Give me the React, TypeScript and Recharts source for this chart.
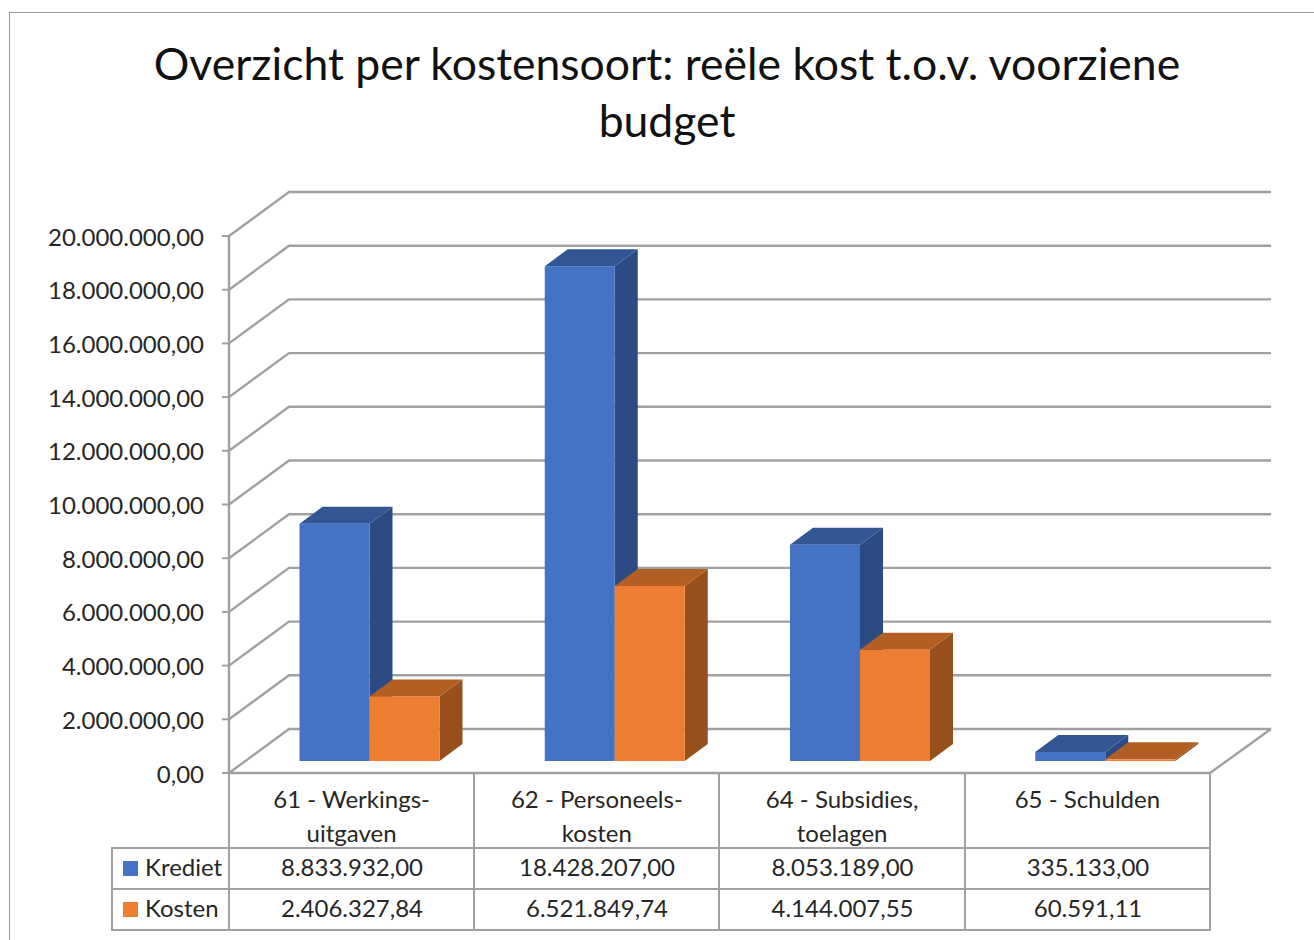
// Overzicht per kostensoort: 3D kolommen met gegevenstabel eronder

import React from 'react';
import { BarChart, Bar, CartesianGrid, XAxis, YAxis } from 'recharts';

const categories = ['61 - Werkings-uitgaven', '62 - Personeels-kosten', '64 - Subsidies, toelagen', '65 - Schulden'];
const categoryLines = [
  ['61 - Werkings-', 'uitgaven'],
  ['62 - Personeels-', 'kosten'],
  ['64 - Subsidies,', 'toelagen'],
  ['65 - Schulden'],
];
const krediet = [8833932.0, 18428207.0, 8053189.0, 335133.0];
const kosten = [2406327.84, 6521849.74, 4144007.55, 60591.11];
const yTicks = [0, 2000000, 4000000, 6000000, 8000000, 10000000, 12000000, 14000000, 16000000, 18000000, 20000000];
const titleLines = ['Overzicht per kostensoort: reële kost t.o.v. voorziene', 'budget'];

const chartData = categories.map((name, i) => ({ name, krediet: krediet[i], kosten: kosten[i] }));

const FONT = 'Lato, sans-serif';
const GRID = '#a0a0a0';
const TEXT = '#262626';

// perspectief: voorvlak -> achterwand
const FRONT_LEFT = 229;
const FRONT_RIGHT = 1210;
const WALL_DX = 60;
const WALL_DY = 44;
const FLOOR_DROP = 12; // bars staan midden op de vloer, voorvlak ligt 12px lager
const BAR_SHIFT = 17.5;
const BAR_DX = 23;
const BAR_DY = 17;

const fmt = (v: number) =>
  v.toLocaleString('de-DE', { minimumFractionDigits: 2, maximumFractionDigits: 2 });

const make3dBar = (side: string, top: string) => (props: any) => {
  const { x, y, width, height, fill } = props;
  return (
    <g>
      <polygon
        points={`${x + width},${y} ${x + width + BAR_DX},${y - BAR_DY} ${x + width + BAR_DX},${y + height - BAR_DY} ${x + width},${y + height}`}
        fill={side}
      />
      <polygon
        points={`${x},${y} ${x + BAR_DX},${y - BAR_DY} ${x + width + BAR_DX},${y - BAR_DY} ${x + width},${y}`}
        fill={top}
      />
      <rect x={x} y={y} width={width} height={height} fill={fill} />
    </g>
  );
};

const gridRow = (props: any) => {
  const y = props.y1 + FLOOR_DROP;
  const isFloor = props.y1 > 750;
  return (
    <g key={props.key} stroke={GRID} strokeWidth={2.4} fill="none">
      <polyline
        points={`${FRONT_LEFT},${y} ${FRONT_LEFT + WALL_DX},${y - WALL_DY} ${FRONT_RIGHT + WALL_DX + 1},${y - WALL_DY}`}
      />
      {isFloor && (
        <>
          <polyline
            points={`${FRONT_LEFT},${y} ${FRONT_RIGHT},${y} ${FRONT_RIGHT + WALL_DX + 1},${y - WALL_DY}`}
          />
          <line x1={FRONT_LEFT} y1={y} x2={FRONT_LEFT} y2={236} />
        </>
      )}
    </g>
  );
};

const YTick = (props: any) => {
  const y = props.y + FLOOR_DROP;
  return (
    <g>
      <line x1={FRONT_LEFT - 7} y1={y} x2={FRONT_LEFT} y2={y} stroke={GRID} strokeWidth={2} />
      <text x={204} y={y + 9.5} textAnchor="end" fontFamily={FONT} fontSize={24} fill={TEXT}>
        {fmt(props.payload.value)}
      </text>
    </g>
  );
};

const XTick = (props: any) => {
  const lines = categoryLines[props.index] ?? [];
  return (
    <text x={props.x - BAR_SHIFT} textAnchor="middle" fontFamily={FONT} fontSize={24} fill={TEXT}>
      {lines.map((line, i) => (
        <tspan key={line} x={props.x - BAR_SHIFT} y={808 + i * 34}>
          {line}
        </tspan>
      ))}
    </text>
  );
};

const cell: React.CSSProperties = {
  border: `2px solid ${GRID}`,
  padding: '0 0 5px 1px',
  textAlign: 'center',
  fontFamily: FONT,
  fontSize: 24,
  color: TEXT,
};

const rows = [
  { label: 'Krediet', color: '#4472C4', values: krediet },
  { label: 'Kosten', color: '#ED7D31', values: kosten },
];

const DataTable = () => (
  <table
    style={{
      position: 'absolute',
      left: 111,
      top: 773,
      width: 1099,
      tableLayout: 'fixed',
      borderCollapse: 'collapse',
    }}
  >
    <colgroup>
      <col style={{ width: 117 }} />
      <col style={{ width: 245 }} />
      <col style={{ width: 245 }} />
      <col style={{ width: 246 }} />
      <col style={{ width: 245 }} />
    </colgroup>
    <tbody>
      <tr style={{ height: 75 }}>
        <td style={{ ...cell, borderTop: 'none', borderLeft: 'none' }} />
        {categories.map((c) => (
          <td key={c} style={{ ...cell, borderTop: 'none' }} />
        ))}
      </tr>
      {rows.map((r) => (
        <tr key={r.label} style={{ height: 41 }}>
          <td style={{ ...cell, textAlign: 'left', whiteSpace: 'nowrap' }}>
            <span
              style={{
                display: 'inline-block',
                width: 15,
                height: 15,
                marginLeft: 9,
                marginRight: 7,
                background: r.color,
              }}
            />
            {r.label}
          </td>
          {r.values.map((v) => (
            <td key={v} style={cell}>
              {fmt(v)}
            </td>
          ))}
        </tr>
      ))}
    </tbody>
  </table>
);

const App = () => (
  <div style={{ position: 'absolute', left: 0, top: 0, width: 1314, height: 940, overflow: 'hidden', background: '#fff' }}>
    {/* kader */}
    <div style={{ position: 'absolute', left: 9, top: 12, width: 1320, height: 940, border: '1.5px solid #9a9a9a' }} />
    <div
      style={{
        position: 'absolute',
        left: 0,
        top: 34,
        width: 1334,
        textAlign: 'center',
        fontFamily: FONT,
        fontSize: 44.5,
        lineHeight: '57px',
        color: '#111',
      }}
    >
      {titleLines.map((t) => (
        <div key={t}>{t}</div>
      ))}
    </div>
    <BarChart
      width={1314}
      height={940}
      data={chartData}
      margin={{ top: 224, right: 86.5, bottom: 79, left: 146.5 }}
      barGap={0}
      barSize={70}
      style={{ position: 'absolute', left: 0, top: 0 }}
    >
      <CartesianGrid vertical={false} horizontal={gridRow} />
      <XAxis dataKey="name" height={100} axisLine={false} tickLine={false} tick={XTick} interval={0} />
      <YAxis width={100} domain={[0, 20000000]} ticks={yTicks} axisLine={false} tickLine={false} tick={YTick} interval={0} />
      <Bar dataKey="krediet" fill="#4472C4" isAnimationActive={false} shape={make3dBar('#2B4B82', '#325594')} />
      <Bar dataKey="kosten" fill="#ED7D31" isAnimationActive={false} shape={make3dBar('#97501C', '#B35E22')} />
    </BarChart>
    <DataTable />
  </div>
);

export default App;
